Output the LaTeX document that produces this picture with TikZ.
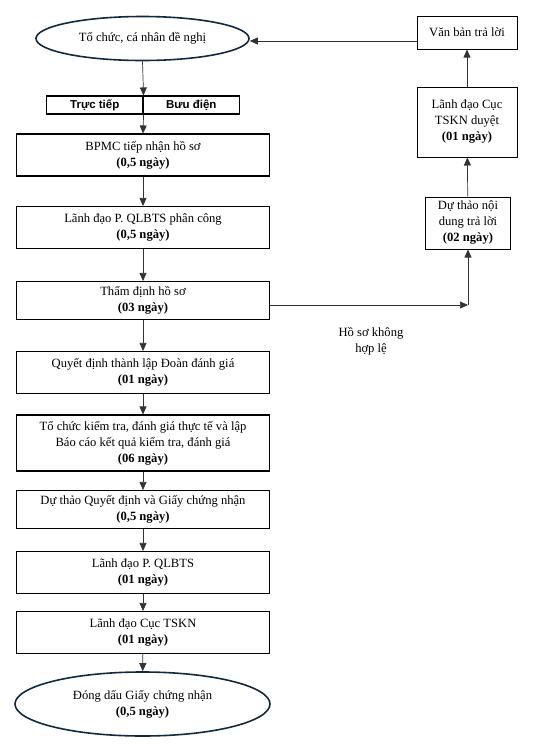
\documentclass[tikz,border=0pt]{standalone}
\usepackage{fontspec}
\setmainfont{Liberation Serif}
\newfontfamily\arialfont{Liberation Sans}
\usetikzlibrary{arrows.meta,positioning,shapes.geometric}
\definecolor{ovalnavy}{RGB}{18,42,64}

\begin{document}
\begin{tikzpicture}[
  x=1pt,y=-1pt,
  font=\fontsize{12.6}{16}\selectfont,
  box/.style={draw,line width=1.1pt,inner sep=2pt,minimum width=253.5pt,minimum height=42pt,align=center},
  sidebox/.style={draw,line width=1pt,inner sep=2pt,align=center},
  way/.style={draw,line width=1.1pt,inner sep=0pt,minimum width=96.5pt,minimum height=18pt,font=\arialfont\bfseries\fontsize{11.5}{13}\selectfont},
  oval/.style={ellipse,draw=ovalnavy,line width=1.6pt,inner sep=0pt,align=center},
  ar/.style={-{Triangle[length=8pt,width=7pt]},line width=0.7pt,black!80},
  lab/.style={align=center}]

 \useasboundingbox (0,0) rectangle (538,750);

 % ---- main column ----
 \node[oval,minimum width=213pt,minimum height=44pt] (start) at (142.5,38.5) {Tổ chức, cá nhân đề nghị};
 \node[way] (direct) at (94.75,105) {Trực tiếp};
 \node[way] (post) at (191.25,105) {Bưu điện};
 \node[box] (recv) at (143,155) {BPMC tiếp nhận hồ sơ\\\textbf{(0,5 ngày)}};
 \node[box] (assign) at (143,227.5) {Lãnh đạo P. QLBTS phân công\\\textbf{(0,5 ngày)}};
 \node[box,minimum height=38pt] (check) at (143,300.5) {Thẩm định hồ sơ\\\textbf{(03 ngày)}};
 \node[box] (team) at (143,372.5) {Quyết định thành lập Đoàn đánh giá\\\textbf{(01 ngày)}};
 \node[box,minimum height=56pt] (audit) at (143,443) {Tổ chức kiểm tra, đánh giá thực tế và lập\\Báo cáo kết quả kiểm tra, đánh giá\\\textbf{(06 ngày)}};
 \node[box,minimum height=38pt] (draft) at (143,509.5) {Dự thảo Quyết định và Giấy chứng nhận\\\textbf{(0,5 ngày)}};
 \node[box] (lead1) at (143,572.5) {Lãnh đạo P. QLBTS\\\textbf{(01 ngày)}};
 \node[box] (lead2) at (143,632.5) {Lãnh đạo Cục TSKN\\\textbf{(01 ngày)}};
 \node[oval,minimum width=255pt,minimum height=64pt] (stamp) at (142.5,704) {Đóng dấu Giấy chứng nhận\\\textbf{(0,5 ngày)}};

 \draw[ar] (start.south) -- (direct.north east);
 \draw[ar] (direct.south east) -- (recv.north);
 \draw[ar] (recv) -- (assign);
 \draw[ar] (assign) -- (check);
 \draw[ar] (check) -- (team);
 \draw[ar] (team) -- (audit);
 \draw[ar] (audit) -- (draft);
 \draw[ar] (draft) -- (lead1);
 \draw[ar] (lead1) -- (lead2);
 \draw[ar] (lead2) -- (stamp);

 % ---- reply column ----
 \node[sidebox,minimum width=100pt,minimum height=33pt] (reply) at (467,32.5) {Văn bản trả lời};
 \node[sidebox,minimum width=100pt,minimum height=70pt] (approve) at (467,122) {Lãnh đạo Cục\\TSKN duyệt\\\textbf{(01 ngày)}};
 \node[sidebox,minimum width=85pt,minimum height=52pt] (answer) at (468,223) {Dự thảo nội\\dung trả lời\\\textbf{(02 ngày)}};
 \coordinate (turn) at (468,305);
 \node[lab] (invalid) at (371,341) {Hồ sơ không\\hợp lệ};

 \draw[ar] (check.east |- turn) -- (turn);
 \draw[ar] (turn) -- (answer.south);
 \draw[ar] (answer) -- (approve);
 \draw[ar] (approve) -- (reply);
 \draw[ar] (reply.west |- 0,41) -- (start.east |- 0,41);
\end{tikzpicture}
\end{document}
